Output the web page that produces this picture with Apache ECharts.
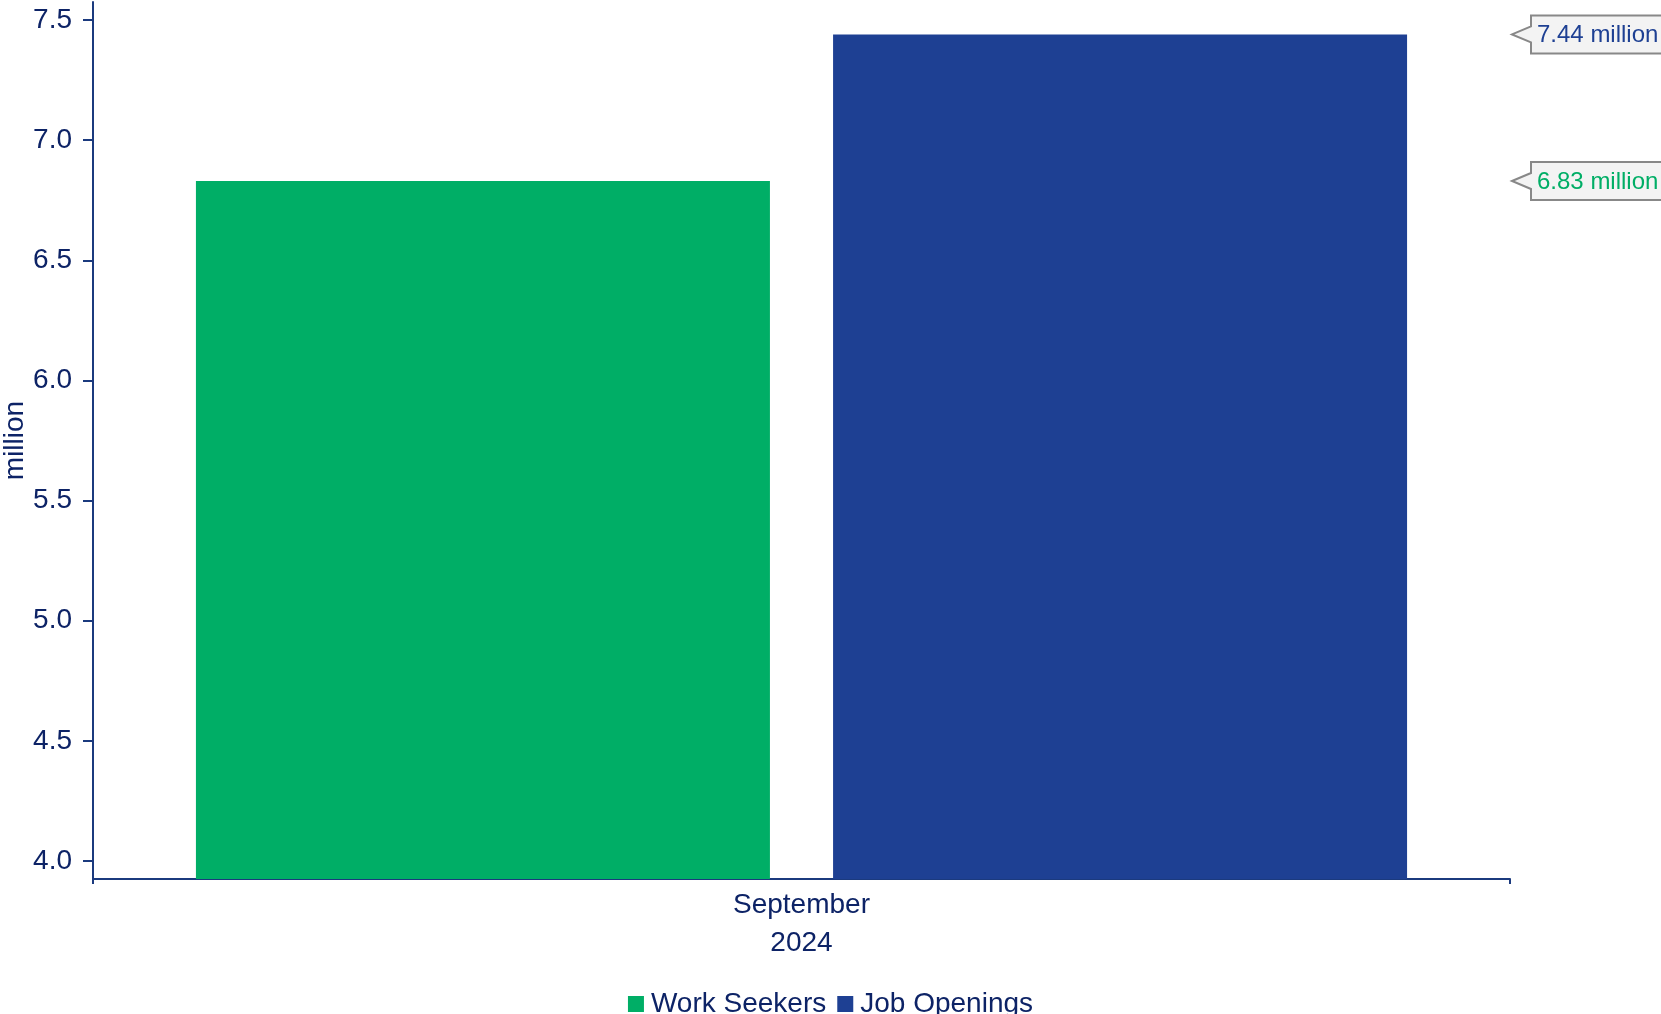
<!DOCTYPE html>
<html>
<head>
<meta charset="utf-8">
<title>Work Seekers vs Job Openings</title>
<script src="https://cdn.jsdelivr.net/npm/echarts@6/dist/echarts.min.js"></script>
<style>
  html, body { margin: 0; padding: 0; background: #fff; }
  #chart-container { width: 1661px; height: 1014px; }
</style>
</head>
<body>
<div id="chart-container"></div>
<script>
// data
const categories = ['September\n2024'];
const seriesNames = ['Work Seekers', 'Job Openings'];
const workSeekers = [6.83];
const jobOpenings = [7.44];
const yTicks = [4.0, 4.5, 5.0, 5.5, 6.0, 6.5, 7.0, 7.5];

const GREEN = '#00ae66';
const BLUE = '#1e4093';
const TEXT = '#0d2366';
const AXIS = '#1b3a7e';
const FONT = '"Liberation Sans", Arial, sans-serif';

document.addEventListener('DOMContentLoaded', () => {
    const chart = echarts.init(document.getElementById('chart-container'));

    // callout box at the right edge of the plot, pointing at the bar value
    const callout = (color) => (params, api) => {
        const cs = params.coordSys;
        const x = cs.x + cs.width + 2;
        const y = api.coord([api.value(0), api.value(1)])[1];
        const w = 170, h = 38, tail = 19;
        return {
            type: 'group',
            children: [
                {
                    type: 'polygon',
                    shape: {
                        points: [
                            [x, y], [x + tail, y - 8], [x + tail, y - h / 2],
                            [x + w, y - h / 2], [x + w, y + h / 2],
                            [x + tail, y + h / 2], [x + tail, y + 8]
                        ]
                    },
                    style: { fill: '#f3f3f3', stroke: '#888', lineWidth: 2 }
                },
                {
                    type: 'text',
                    style: {
                        text: api.value(1).toFixed(2) + ' million',
                        x: x + tail + 6,
                        y: y + 1,
                        verticalAlign: 'middle',
                        fill: color,
                        font: '24px ' + FONT
                    }
                }
            ]
        };
    };

    const option = {
        animation: false,
        textStyle: { fontFamily: FONT },
        grid: { left: 93, right: 151, top: 2, bottom: 135, outerBoundsMode: 'none', containLabel: false },
        legend: {
            data: seriesNames,
            left: 'center',
            top: 985,
            icon: 'rect',
            itemWidth: 16,
            itemHeight: 16,
            itemGap: 11,
            textStyle: { color: TEXT, fontSize: 28, padding: [0, 0, 0, 2] }
        },
        xAxis: {
            type: 'category',
            data: categories,
            axisLine: { lineStyle: { color: AXIS, width: 2 } },
            axisTick: { show: true, length: 5, lineStyle: { color: AXIS, width: 2 } },
            axisLabel: { color: TEXT, fontSize: 28, lineHeight: 38, margin: 7 }
        },
        yAxis: {
            type: 'value',
            min: 3.925,
            max: 7.575,
            name: 'million',
            nameLocation: 'middle',
            nameGap: 64,
            nameMoveOverlap: false,
            nameTextStyle: { color: TEXT, fontSize: 28 },
            axisLine: { show: true, lineStyle: { color: AXIS, width: 2 } },
            axisTick: { show: true, length: 10, customValues: yTicks, lineStyle: { color: AXIS, width: 2 } },
            axisLabel: {
                color: TEXT, fontSize: 28, margin: 21,
                customValues: yTicks,
                formatter: v => v.toFixed(1)
            },
            splitLine: { show: false }
        },
        series: [
            {
                name: seriesNames[0],
                type: 'bar',
                data: workSeekers,
                barWidth: 574,
                barGap: '11%',
                itemStyle: { color: GREEN }
            },
            {
                name: seriesNames[1],
                type: 'bar',
                data: jobOpenings,
                barWidth: 574,
                barGap: '11%',
                itemStyle: { color: BLUE }
            },
            {
                name: 'seekersLabel',
                type: 'custom',
                data: workSeekers.map((v, i) => [i, v]),
                renderItem: callout(GREEN),
                clip: false,
                z: 10
            },
            {
                name: 'openingsLabel',
                type: 'custom',
                data: jobOpenings.map((v, i) => [i, v]),
                renderItem: callout(BLUE),
                clip: false,
                z: 10
            }
        ]
    };

    chart.setOption(option);
});
</script>
</body>
</html>
